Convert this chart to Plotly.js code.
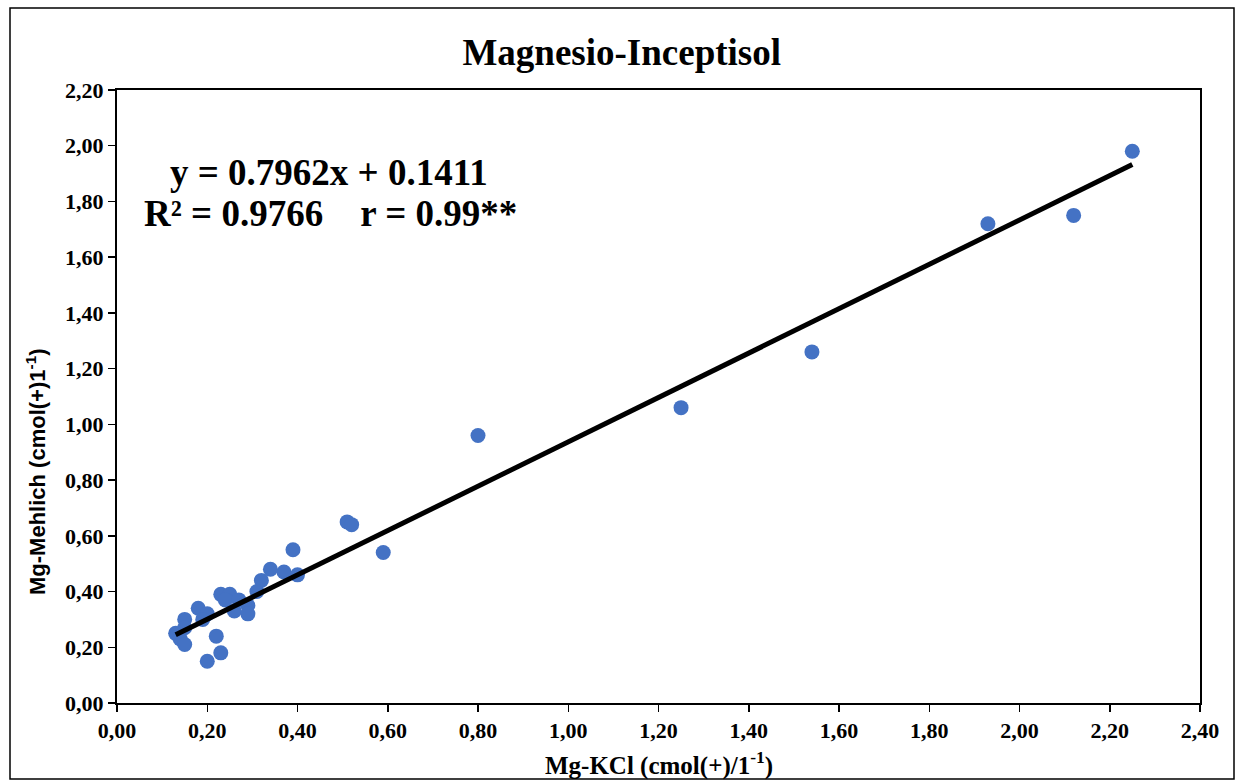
<!DOCTYPE html>
<html>
<head>
<meta charset="utf-8">
<script src="https://cdn.plot.ly/plotly-3.0.1.min.js"></script>
<style>html,body{margin:0;padding:0;background:#fff;}#chart{width:1236px;height:781px;}</style>
</head>
<body>
<div id="chart"></div>
<script>
const mgKCl = [2.25, 2.12, 1.93, 1.54, 1.25, 0.80, 0.59, 0.51, 0.52, 0.39, 0.34, 0.37, 0.40, 0.32, 0.31,
  0.23, 0.25, 0.24, 0.27, 0.29, 0.26, 0.29, 0.18, 0.20, 0.19, 0.15, 0.15, 0.13, 0.14, 0.15, 0.22, 0.23, 0.20];
const mgMehlich = [1.98, 1.75, 1.72, 1.26, 1.06, 0.96, 0.54, 0.65, 0.64, 0.55, 0.48, 0.47, 0.46, 0.44, 0.40,
  0.39, 0.39, 0.37, 0.37, 0.35, 0.33, 0.32, 0.34, 0.32, 0.30, 0.30, 0.27, 0.25, 0.23, 0.21, 0.24, 0.18, 0.15];
const slope = 0.7962, intercept = 0.1411;
const fitX = [0.13, 2.25];
const fitY = fitX.map(v => slope * v + intercept);
const xTicks = [0,0.2,0.4,0.6,0.8,1.0,1.2,1.4,1.6,1.8,2.0,2.2,2.4];
const xTickText = ["0,00","0,20","0,40","0,60","0,80","1,00","1,20","1,40","1,60","1,80","2,00","2,20","2,40"];
const yTicks = [0,0.2,0.4,0.6,0.8,1.0,1.2,1.4,1.6,1.8,2.0,2.2];
const yTickText = ["0,00","0,20","0,40","0,60","0,80","1,00","1,20","1,40","1,60","1,80","2,00","2,20"];

const serif = "Liberation Serif, Times New Roman, serif";
const L = 117, R = 36, T = 90, B = 78, W = 1236, H = 781;
const pw = W - L - R, ph = H - T - B;
const px = v => (v - L) / pw;
const py = v => (H - B - v) / ph;
const bold = arr => arr.map(s => '<b>' + s + '</b>');

const traces = [
  {x: mgKCl, y: mgMehlich, mode: 'markers', type: 'scatter',
   marker: {color: '#4472C4', size: 15}, hoverinfo: 'x+y'},
  {x: fitX, y: fitY, mode: 'lines', type: 'scatter',
   line: {color: '#000000', width: 5}, hoverinfo: 'skip'}
];

const layout = {
  width: W, height: H,
  margin: {l: L, r: R, t: T, b: B},
  paper_bgcolor: '#ffffff', plot_bgcolor: '#ffffff',
  showlegend: false,
  title: {text: '<b>Magnesio-Inceptisol</b>', font: {family: serif, size: 37, color: '#000'},
          x: 0.503, xanchor: 'center', y: 1 - 52/H, yanchor: 'middle'},
  xaxis: {range: [0, 2.4], tickvals: xTicks, ticktext: bold(xTickText), showgrid: false, zeroline: false,
          showline: true, linecolor: '#000', linewidth: 2, mirror: true,
          ticks: 'outside', ticklen: 7, tickcolor: '#000', tickwidth: 1.5,
          tickfont: {family: serif, size: 22, color: '#000'}},
  yaxis: {range: [0, 2.2], tickvals: yTicks, ticktext: bold(yTickText), showgrid: false, zeroline: false,
          showline: true, linecolor: '#000', linewidth: 2, mirror: true,
          ticks: 'outside', ticklen: 7, tickcolor: '#000', tickwidth: 1.5,
          tickfont: {family: serif, size: 22, color: '#000'}},
  annotations: [
    {xref: 'paper', yref: 'paper', x: px(329), y: py(172), xanchor: 'center', yanchor: 'middle', showarrow: false,
     text: '<b>y = 0.7962x + 0.1411</b>', font: {family: serif, size: 37, color: '#000'}},
    {xref: 'paper', yref: 'paper', x: px(142), y: py(213), xanchor: 'left', yanchor: 'middle', showarrow: false,
     text: '<b>R² = 0.9766\u00A0\u00A0\u00A0\u00A0r = 0.99**</b>', font: {family: serif, size: 37, color: '#000'}},
    {xref: 'paper', yref: 'paper', x: px(36), y: py(472), xanchor: 'center', yanchor: 'middle', showarrow: false,
     textangle: -90, text: '<b>Mg-Mehlich (cmol(+)1<sup>-1</sup>)</b>',
     font: {family: 'Liberation Sans, Arial, sans-serif', size: 22, color: '#000'}},
    {xref: 'paper', yref: 'paper', x: px(659), y: py(763), xanchor: 'center', yanchor: 'middle', showarrow: false,
     text: '<b>Mg-KCl (cmol(+)/1<sup>-1</sup>)</b>', font: {family: serif, size: 25, color: '#000'}}
  ],
  shapes: [
    {type: 'rect', xref: 'paper', yref: 'paper', x0: px(10), x1: px(1234), y0: py(779), y1: py(8),
     line: {color: '#000', width: 1.5}, fillcolor: 'rgba(0,0,0,0)', layer: 'below'}
  ]
};

Plotly.newPlot('chart', traces, layout, {displayModeBar: false, staticPlot: true});
</script>
</body>
</html>
